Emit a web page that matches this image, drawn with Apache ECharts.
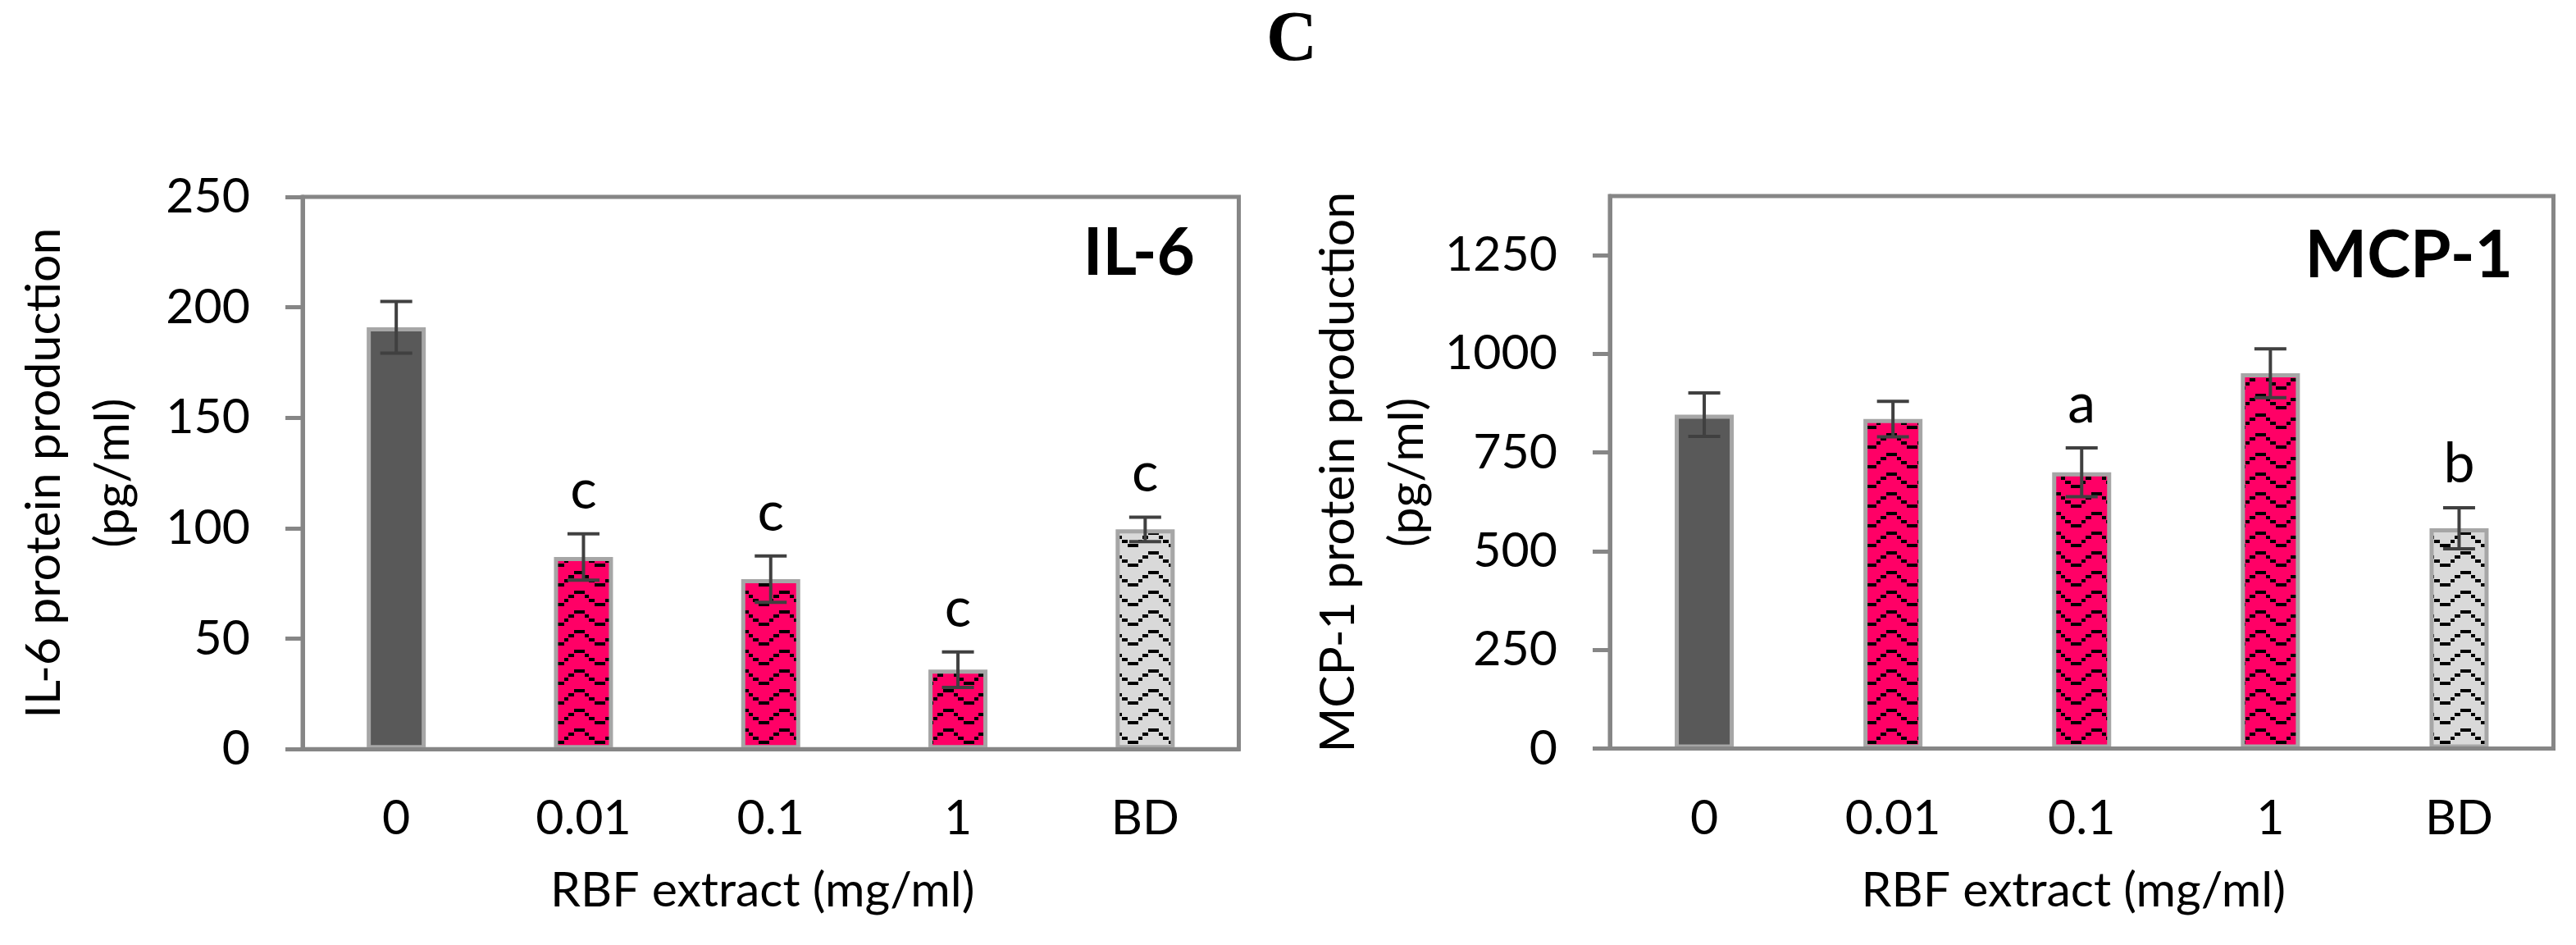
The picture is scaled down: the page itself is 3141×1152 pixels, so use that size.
<!DOCTYPE html>
<html><head><meta charset="utf-8">
<script src="https://cdn.jsdelivr.net/npm/echarts@6/dist/echarts.min.js"></script>
<style>html,body{margin:0;padding:0;background:#fff}#c{width:3141px;height:1152px}</style>
</head><body><div id="c"></div>
<script>
const categories = ['0', '0.01', '0.1', '1', 'BD'];
const il6Mean = [191, 87, 77, 36, 99.5];
const il6Err = [11.7, 10.5, 10.5, 8, 5.5];
const il6Letters = ['', 'c', 'c', 'c', 'c'];
const mcpMean = [846, 835, 700, 951, 558];
const mcpErr = [55, 45, 62, 62, 52];
const mcpLetters = ['', '', 'a', '', 'b'];
const il6Ticks = [0, 50, 100, 150, 200, 250];
const mcpTicks = [0, 250, 500, 750, 1000, 1250];
const xName = 'RBF extract (mg/ml)';
const il6Name = 'IL-6 protein production\n(pg/ml)';
const mcpName = 'MCP-1 protein production\n(pg/ml)';
const panelTitle = 'C';
const il6Title = 'IL-6';
const mcpTitle = 'MCP-1';

function zigzag(bg) {
  const c = document.createElement('canvas');
  c.width = 50; c.height = 24;
  const g = c.getContext('2d');
  g.fillStyle = bg; g.fillRect(0, 0, 50, 24);
  g.fillStyle = '#000';
  [[0,0,13,4],[13,5,5,4],[18,10,7,4],[25,15,13,4],[38,10,5,4],[43,5,7,4]].forEach(r => g.fillRect(r[0], r[1], r[2], r[3]));
  return { image: c, repeat: 'repeat' };
}
const pink = zigzag('#ff0066');
const grey = zigzag('#d9d9d9');
const fills = ['#595959', pink, pink, pink, grey];

const FONT = 'Lato';
const AX = '#868686';
const txt = { color: '#000', fontSize: 59, fontFamily: FONT };

function errRender(letters) {
  return function (params, api) {
    const i = api.value(0), m = api.value(1), e = api.value(2);
    const top = api.coord([i, m + e]), bot = api.coord([i, m - e]);
    const hw = 19.5;
    const st = { stroke: '#404040', lineWidth: 4 };
    const ch = [
      { type: 'line', shape: { x1: top[0], y1: top[1], x2: bot[0], y2: bot[1] }, style: st },
      { type: 'line', shape: { x1: top[0] - hw, y1: top[1], x2: top[0] + hw, y2: top[1] }, style: st },
      { type: 'line', shape: { x1: bot[0] - hw, y1: bot[1], x2: bot[0] + hw, y2: bot[1] }, style: st }
    ];
    const L = letters[params.dataIndex];
    if (L) ch.push({ type: 'text', x: top[0], y: top[1] - 19,
      style: { text: L, fill: '#000', fontSize: 68, fontFamily: FONT, align: 'center', verticalAlign: 'bottom' } });
    return { type: 'group', children: ch };
  };
}

function xAx(g) {
  return { gridIndex: g, type: 'category', data: categories, z: 10,
    axisLine: { lineStyle: { color: AX, width: 5 } }, axisTick: { show: false },
    axisLabel: Object.assign({ margin: 55, lineHeight: 60 }, txt),
    name: xName, nameLocation: 'middle', nameGap: 143,
    nameTextStyle: Object.assign({ lineHeight: 60, padding: [0, 20, 0, 0] }, txt) };
}
function yAx(g, max, interval, ticks, name, gap) {
  return { gridIndex: g, type: 'value', min: 0, max: max, interval: interval, z: 10,
    axisLine: { show: true, lineStyle: { color: AX, width: 5 } },
    axisTick: { show: true, length: 21, lineStyle: { color: AX, width: 5 }, customValues: ticks },
    splitLine: { show: false },
    axisLabel: Object.assign({ margin: 64, customValues: ticks, formatter: v => String(v) }, txt),
    name: name, nameLocation: 'middle', nameGap: gap,
    nameTextStyle: Object.assign({ lineHeight: 84 }, txt) };
}
function bars(g, vals) {
  return { type: 'bar', xAxisIndex: g, yAxisIndex: g, barWidth: 72, silent: true,
    itemStyle: { borderColor: '#a6a6a6', borderWidth: 5 },
    data: vals.map((v, i) => ({ value: v, itemStyle: { color: fills[i] } })) };
}
function errs(g, mean, err, letters) {
  return { type: 'custom', xAxisIndex: g, yAxisIndex: g, z: 5, silent: true,
    renderItem: errRender(letters),
    data: mean.map((v, i) => [i, v, err[i]]) };
}

const chart = echarts.init(document.getElementById('c'));
chart.setOption({
  animation: false,
  backgroundColor: '#fff',
  grid: [
    { left: 369, right: 1630.5, top: 240, bottom: 238.7, show: true, borderColor: AX, borderWidth: 5, containLabel: false, outerBoundsMode: 'none' },
    { left: 1963, right: 27.5, top: 239, bottom: 239.5, show: true, borderColor: AX, borderWidth: 5, containLabel: false, outerBoundsMode: 'none' }
  ],
  xAxis: [xAx(0), xAx(1)],
  yAxis: [yAx(0, 250, 50, il6Ticks, il6Name, 189), yAx(1, 1400, 250, mcpTicks, mcpName, 183)],
  series: [bars(0, il6Mean), errs(0, il6Mean, il6Err, il6Letters),
           bars(1, mcpMean), errs(1, mcpMean, mcpErr, mcpLetters)],
  graphic: [
    { type: 'text', x: 1575, y: 51, style: { text: panelTitle, fontSize: 86, fontWeight: 'bold', fontFamily: '"Liberation Serif"', fill: '#000', align: 'center', verticalAlign: 'middle' } },
    { type: 'text', x: 1457, y: 309, style: { text: il6Title, fontSize: 80, fontWeight: 'bold', fontFamily: FONT, fill: '#000', align: 'right', verticalAlign: 'middle' } },
    { type: 'text', x: 3064, y: 312, style: { text: mcpTitle, fontSize: 80, fontWeight: 'bold', fontFamily: FONT, fill: '#000', align: 'right', verticalAlign: 'middle' } }
  ]
});
</script></body></html>
